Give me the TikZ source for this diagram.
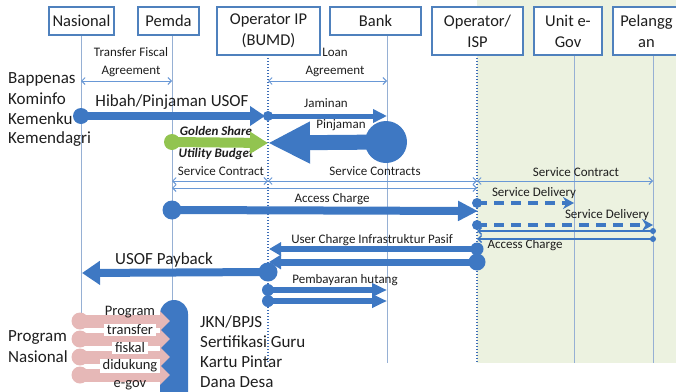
\documentclass[tikz,border=0pt]{standalone}
\usepackage{fontspec}
\setmainfont{Carlito}
\usetikzlibrary{arrows.meta}

\definecolor{flowblue}{RGB}{62,120,195}
\definecolor{boxblue}{RGB}{79,129,189}
\definecolor{lifeblue}{RGB}{150,176,212}
\definecolor{dotblue}{RGB}{60,108,182}
\definecolor{thinblue}{RGB}{105,152,214}
\definecolor{leafgreen}{RGB}{146,196,80}
\definecolor{palegreen}{RGB}{236,242,224}
\definecolor{rosepink}{RGB}{230,184,183}
\definecolor{inkgray}{RGB}{30,30,30}

\newcommand\hdrsize{\fontsize{16.5}{21}\selectfont}
\newcommand\lblsize{\fontsize{13}{14}\selectfont}
\newcommand\bigsize{\fontsize{17}{20}\selectfont}
\newcommand\pinksize{\fontsize{14.5}{16}\selectfont}

\begin{document}
\begin{tikzpicture}[x=1pt,y=-1pt,
  every node/.style={text=inkgray},
  hdr/.style={draw=boxblue, line width=1.6pt, fill=white, align=center, font=\hdrsize, inner sep=0pt},
  life/.style={draw=lifeblue, line width=0.9pt},
  dotlife/.style={draw=dotblue, line width=1.6pt, dash pattern=on 1.4pt off 1.6pt},
  lbl/.style={font=\lblsize, inner sep=0pt},
  biglbl/.style={font=\bigsize, inner sep=0pt},
  pinklbl/.style={font=\pinksize, fill=white, inner xsep=3pt, inner ysep=1pt},
  dot/.style={circle, fill=flowblue, inner sep=0pt, minimum size=#1},
  pinkdot/.style={circle, fill=rosepink, inner sep=0pt, minimum size=#1},
  twoway/.style={draw=thinblue, line width=0.9pt, {Straight Barb[length=3.5pt,width=7pt]}-{Straight Barb[length=3.5pt,width=7pt]}},
  flow/.style={draw=flowblue, line width=#1},
  dashflow/.style={draw=flowblue, line width=3.5pt, dash pattern=on 10pt off 7pt},
]
\useasboundingbox (0,0) rectangle (676,391);
\clip (0,0) rectangle (676,391);

% shaded zone of the ISP side
\fill[palegreen] (477,0) rectangle (676,363);

% lifelines
\coordinate (nasT) at (81,35);   \coordinate (nasB) at (81,318);
\coordinate (pemT) at (172,35);  \coordinate (pemB) at (172,300);
\coordinate (oipT) at (268,55);  \coordinate (oipB) at (268,363);
\coordinate (bnkT) at (387,35);  \coordinate (bnkB) at (387,363);
\coordinate (ispT) at (477,55);  \coordinate (ispB) at (477,363);
\coordinate (govT) at (574,55);  \coordinate (govB) at (574,363);
\coordinate (pelT) at (653,55);  \coordinate (pelB) at (653,363);
\draw[life] (nasT) -- (nasB);
\draw[life] (pemT) -- (pemB);
\draw[dotlife] (oipT) -- (oipB);
\draw[life] (bnkT) -- (bnkB);
\draw[dotlife] (ispT) -- (ispB);
\draw[life] (govT) -- (govB);
\draw[life] (pelT) -- (pelB);

% participant headers
\node[hdr, minimum width=65pt, minimum height=28pt] (hNas) at (81.5,21) {Nasional};
\node[hdr, minimum width=61pt, minimum height=28pt] (hPem) at (168.5,21) {Pemda};
\node[hdr, minimum width=103pt, minimum height=48pt] (hOip) at (268.5,31) {Operator IP\\(BUMD)};
\node[hdr, minimum width=91pt, minimum height=28pt] (hBnk) at (375.5,21) {Bank};
\node[hdr, minimum width=91pt, minimum height=48pt] (hIsp) at (477.5,31) {Operator/\\ISP};
\node[hdr, minimum width=68pt, minimum height=48pt] (hGov) at (568,31) {Unit e-\\Gov};
\node[hdr, minimum width=67pt, minimum height=48pt] (hPel) at (646.5,31) {Pelangg\\an};

% ministries on the national side
\node[biglbl, anchor=west] (mBap) at (8,79) {Bappenas};
\node[biglbl, anchor=west] (mKom) at (8,99) {Kominfo};
\node[biglbl, anchor=west] (mKeu) at (8,119) {Kemenku};
\node[biglbl, anchor=west] (mDag) at (8,139) {Kemendagri};

% agreements
\coordinate (tfA) at (81,81);  \coordinate (tfB) at (172,81);
\coordinate (laA) at (268,81); \coordinate (laB) at (387,81);
\draw[twoway] (tfA) -- (tfB);
\draw[twoway] (laA) -- (laB);
\node[lbl] (tTf1) at (131,52) {Transfer Fiscal};
\node[lbl] (tTf2) at (131,71) {Agreement};
\node[lbl] (tLa1) at (335,52) {Loan};
\node[lbl] (tLa2) at (335,71) {Agreement};

% service contracts
\coordinate (sc1) at (172,181); \coordinate (sc2) at (268,181);
\coordinate (sc3) at (477,181); \coordinate (sc4) at (653,181);
\coordinate (sc5) at (172,188); \coordinate (sc6) at (477,188);
\draw[twoway] (sc1) -- (sc2);
\draw[twoway] (sc2) -- (sc3);
\draw[twoway] (sc3) -- (sc4);
\draw[twoway] (sc5) -- (sc6);
\node[lbl] (tSc1) at (221,171) {Service Contract};
\node[lbl] (tSc2) at (375,171) {Service Contracts};
\node[lbl] (tSc3) at (576,172) {Service Contract};

% labels of the flows
\node[biglbl] (tHib) at (172,102) {Hibah/Pinjaman USOF};
\node[lbl] (tJam) at (326,103) {Jaminan};
\node[lbl] (tPin) at (341,125) {Pinjaman};
\node[lbl, font=\lblsize\bfseries\itshape] (tGold) at (216,131) {Golden Share};
\node[lbl, font=\lblsize\bfseries\itshape] (tUtil) at (216,154) {Utility Budget};
\node[lbl] (tAcc1) at (332,199) {Access Charge};
\node[lbl] (tSd1) at (534,193) {Service Delivery};
\node[lbl] (tSd2) at (607,215) {Service Delivery};
\node[lbl] (tAcc2) at (525,245) {Access Charge};
\node[lbl] (tUser) at (372,240) {User Charge Infrastruktur Pasif};
\node[biglbl] (tPay) at (164,260) {USOF Payback};
\node[lbl] (tHut) at (345,280) {Pembayaran hutang};

% Hibah/Pinjaman USOF and Jaminan
\node[dot=16pt] (dHib) at (81,116) {};
\coordinate (hibEnd) at (265,116);
\draw[flow=8pt, -{Triangle[length=15pt,width=19pt]}] (dHib.center) -- (hibEnd);
\node[dot=10pt] (dJam) at (268,116) {};
\coordinate (jamEnd) at (387,116);
\draw[flow=5pt, -{Triangle[length=14pt,width=13pt]}] (dJam.center) -- (jamEnd);

% Pinjaman from the bank
\node[dot=42pt] (dPin) at (386,142) {};
\coordinate (pinEnd) at (268,143);
\draw[flow=15pt, -{Triangle[length=42pt,width=39pt]}] (dPin.center) -- (pinEnd);

% Golden Share / Utility Budget
\node[pinkdot=16pt, fill=leafgreen] (dGold) at (172,142) {};
\coordinate (goldEnd) at (268,143);
\draw[draw=leafgreen, line width=10pt, -{Triangle[length=18pt,width=21pt]}] (dGold.center) -- (goldEnd);

% Access Charge from Pemda
\node[dot=19pt] (dAcc) at (172,210) {};
\coordinate (accEnd) at (478,211);
\draw[flow=8pt, -{Triangle[length=20pt,width=19pt]}] (dAcc.center) -- (accEnd);

% service delivery
\node[dot=10pt] (dSd1) at (477,203) {};
\coordinate (sd1End) at (574,203);
\draw[dashflow, -{Stealth[length=11pt,width=12pt]}] (dSd1.center) -- (sd1End);
\node[dot=10pt] (dSd2) at (477,225) {};
\coordinate (sd2End) at (653,225);
\draw[dashflow, -{Stealth[length=11pt,width=12pt]}] (dSd2.center) -- (sd2End);

% customer access charges
\node[dot=6pt] (dCu1) at (653,231) {};
\node[dot=6pt] (dCu2) at (653,239) {};
\coordinate (cu1End) at (477,231);
\coordinate (cu2End) at (477,239);
\draw[flow=1.5pt, -{Straight Barb[length=3.5pt,width=7pt]}] (dCu1.center) -- (cu1End);
\draw[flow=1.5pt, -{Straight Barb[length=3.5pt,width=7pt]}] (dCu2.center) -- (cu2End);

% user charges back to the operator
\node[dot=13pt] (dUs1) at (477,249) {};
\coordinate (us1End) at (269,249);
\draw[flow=6pt, -{Triangle[length=12pt,width=13pt]}] (dUs1.center) -- (us1End);
\node[dot=17pt] (dUs2) at (477,262) {};
\coordinate (us2End) at (269,262);
\draw[flow=7pt, -{Triangle[length=12pt,width=14pt]}] (dUs2.center) -- (us2End);

% USOF payback
\node[dot=19pt] (dPay) at (268,272) {};
\coordinate (payEnd) at (82,273);
\draw[flow=8pt, -{Triangle[length=18pt,width=23pt]}] (dPay.center) -- (payEnd);

% loan repayment
\node[dot=12pt] (dHu1) at (268,290) {};
\node[dot=12pt] (dHu2) at (268,301) {};
\coordinate (hu1End) at (387,290);
\coordinate (hu2End) at (387,301);
\draw[flow=6pt, -{Triangle[length=15pt,width=13pt]}] (dHu1.center) -- (hu1End);
\draw[flow=6pt, -{Triangle[length=15pt,width=13pt]}] (dHu2.center) -- (hu2End);

% national programmes into Pemda
\node[fill=flowblue, rounded corners=14pt, minimum width=28pt, minimum height=120pt, inner sep=0pt] (cap) at (174,360) {};
\foreach \yy/\nm in {321/a,339/b,357/c,375/d}{
  \node[pinkdot=17pt] (pk\nm) at (80,\yy) {};
  \coordinate (pe\nm) at (170,\yy);
  \draw[draw=rosepink, line width=13pt, -{Triangle[length=10pt,width=19pt]}] (pk\nm.center) -- (pe\nm);
}
\node[pinklbl, fill=none] (pl1) at (130,312) {Program};
\node[pinklbl] (pl2) at (130,330) {transfer};
\node[pinklbl] (pl3) at (130,348) {fiskal};
\node[pinklbl] (pl4) at (130,366) {didukung};
\node[pinklbl, fill=none] (pl5) at (130,385) {e-gov};

\node[biglbl, anchor=west] (pn1) at (8,337) {Program};
\node[biglbl, anchor=west] (pn2) at (8,357) {Nasional};

\node[biglbl, anchor=west] (pr1) at (200,322) {JKN/BPJS};
\node[biglbl, anchor=west] (pr2) at (200,342) {Sertifikasi Guru};
\node[biglbl, anchor=west] (pr3) at (200,362) {Kartu Pintar};
\node[biglbl, anchor=west] (pr4) at (200,382) {Dana Desa};
\end{tikzpicture}
\end{document}
